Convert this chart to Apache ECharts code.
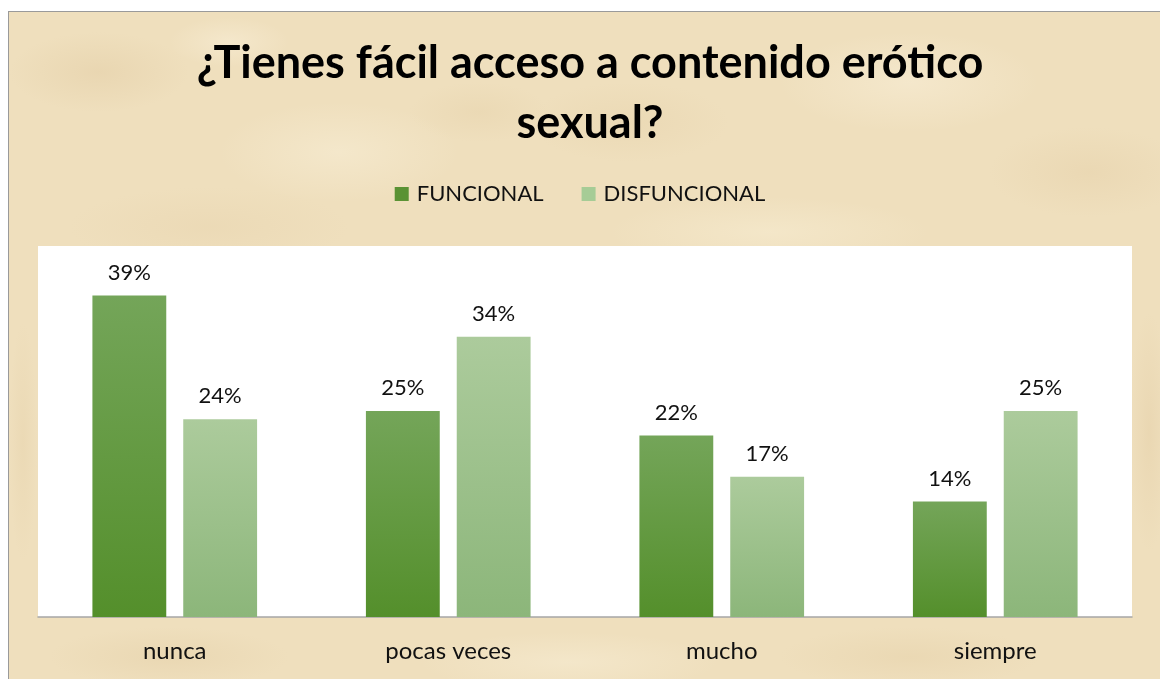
<!DOCTYPE html>
<html>
<head>
<meta charset="utf-8">
<script src="https://cdn.jsdelivr.net/npm/echarts@6/dist/echarts.min.js"></script>
<style>
  html, body { margin: 0; padding: 0; background: #ffffff; }
  #frame {
    position: absolute; left: 8px; top: 11px; width: 1152px; height: 668px;
    border-left: 1px solid #9a9a9a; border-top: 1px solid #9a9a9a;
    background-color: #efdfbd;
    background-image:
      radial-gradient(ellipse 90px 40px at 90px 60px, rgba(222,198,156,0.35), rgba(222,198,156,0) 100%),
      radial-gradient(ellipse 60px 25px at 220px 30px, rgba(250,240,218,0.5), rgba(250,240,218,0) 100%),
      radial-gradient(ellipse 120px 50px at 330px 140px, rgba(248,238,214,0.55), rgba(248,238,214,0) 100%),
      radial-gradient(ellipse 70px 30px at 470px 100px, rgba(226,204,162,0.3), rgba(226,204,162,0) 100%),
      radial-gradient(ellipse 100px 40px at 620px 110px, rgba(226,204,162,0.3), rgba(226,204,162,0) 100%),
      radial-gradient(ellipse 130px 50px at 900px 70px, rgba(250,240,218,0.5), rgba(250,240,218,0) 100%),
      radial-gradient(ellipse 100px 45px at 1080px 160px, rgba(224,200,158,0.3), rgba(224,200,158,0) 100%),
      radial-gradient(ellipse 140px 40px at 200px 215px, rgba(228,206,166,0.3), rgba(228,206,166,0) 100%),
      radial-gradient(ellipse 160px 35px at 760px 220px, rgba(248,238,212,0.5), rgba(248,238,212,0) 100%),
      radial-gradient(ellipse 120px 30px at 160px 645px, rgba(224,202,160,0.35), rgba(224,202,160,0) 100%),
      radial-gradient(ellipse 150px 30px at 560px 650px, rgba(248,238,214,0.5), rgba(248,238,214,0) 100%),
      radial-gradient(ellipse 130px 30px at 900px 645px, rgba(226,204,162,0.35), rgba(226,204,162,0) 100%),
      radial-gradient(ellipse 20px 120px at 1140px 420px, rgba(224,200,158,0.35), rgba(224,200,158,0) 100%),
      radial-gradient(ellipse 14px 120px at 14px 430px, rgba(226,204,162,0.3), rgba(226,204,162,0) 100%);
  }
  #chart { position: absolute; left: 0; top: 0; width: 1160px; height: 679px; }
</style>
</head>
<body>
<div id="frame"></div>
<div id="chart"></div>
<script>
// Survey answers, share of respondents (%) per family type
const categories = ['nunca', 'pocas veces', 'mucho', 'siempre'];
const seriesNames = ['FUNCIONAL', 'DISFUNCIONAL'];
const funcional = [39, 25, 22, 14];
const disfuncional = [24, 34, 17, 25];

const font = 'Lato, "Open Sans", sans-serif';

function vGrad(top, bottom) {
  return new echarts.graphic.LinearGradient(0, 0, 0, 1, [
    { offset: 0, color: top },
    { offset: 1, color: bottom }
  ]);
}

const labelStyle = {
  show: true,
  position: 'top',
  distance: 12,
  formatter: p => p.value + '%',
  fontFamily: font,
  fontSize: 22,
  color: '#111'
};

const chart = echarts.init(document.getElementById('chart'), null, { renderer: 'canvas' });
chart.setOption({
  backgroundColor: 'transparent',
  animation: false,
  title: {
    text: '¿Tienes fácil acceso a contenido erótico\nsexual?',
    left: 585,
    top: 28,
    textAlign: 'center',
    textStyle: {
      fontFamily: font,
      fontWeight: 'bold',
      fontSize: 45,
      lineHeight: 60,
      align: 'center',
      color: '#000'
    }
  },
  legend: {
    data: [
      { name: seriesNames[0], itemStyle: { color: '#5a9234' } },
      { name: seriesNames[1], itemStyle: { color: '#a6cc96' } }
    ],
    top: 178,
    left: 'center',
    icon: 'rect',
    itemWidth: 14,
    itemHeight: 14,
    itemGap: 38,
    textStyle: { fontFamily: font, fontSize: 22, color: '#111', padding: [0, 0, 0, 3] }
  },
  grid: {
    left: 38, right: 28, top: 246, bottom: 62,
    show: true, backgroundColor: '#ffffff', borderWidth: 0
  },
  xAxis: {
    type: 'category',
    data: categories,
    axisLine: { lineStyle: { color: '#a6a6a6', width: 1.5 } },
    axisTick: { show: false },
    axisLabel: { fontFamily: font, fontSize: 24, color: '#111', margin: 22 }
  },
  yAxis: {
    type: 'value',
    min: 0, max: 45, interval: 5,
    show: false,
    splitLine: { show: false }
  },
  series: [
    {
      name: seriesNames[0],
      type: 'bar',
      data: funcional,
      barWidth: '27%',
      barGap: '23%',
      itemStyle: { color: vGrad('#74a559', '#548f2b') },
      label: labelStyle
    },
    {
      name: seriesNames[1],
      type: 'bar',
      data: disfuncional,
      barWidth: '27%',
      barGap: '23%',
      itemStyle: { color: vGrad('#accb9c', '#8cb67a') },
      label: labelStyle
    }
  ]
});
</script>
</body>
</html>
